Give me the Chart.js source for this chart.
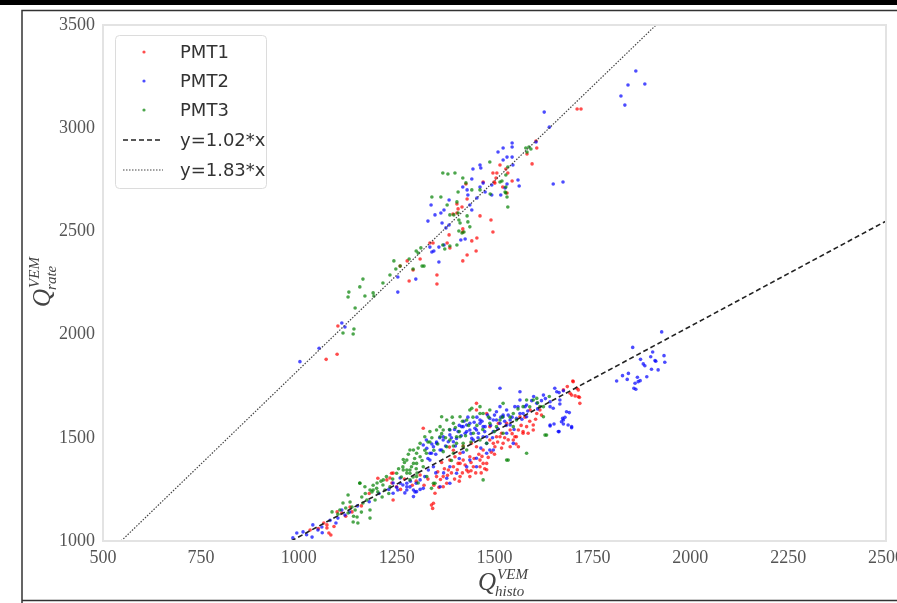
<!DOCTYPE html>
<html>
<head>
<meta charset="utf-8">
<script src="https://cdn.jsdelivr.net/npm/chart.js@4.4.0/dist/chart.umd.min.js"></script>
<style>
html, body { margin: 0; padding: 0; background: #fff; }
#wrap { position: relative; width: 897px; height: 603px; }
</style>
</head>
<body>
<div id="wrap"><canvas id="c" width="897" height="603"></canvas></div>
<script>
// axis ranges / ticks
const xTicks = [500, 750, 1000, 1250, 1500, 1750, 2000, 2250, 2500];
const yTicks = [1000, 1500, 2000, 2500, 3000, 3500];

// fit lines (end points)
const fit102 = [[980.4, 1000], [2500, 2550]];
const fit183 = [[546.4, 1000], [1912.6, 3500]];

// PMT1 (red)
const pmt1 = [
  [1070,1880],[1098,1905],[1100,2042],[1259,2332],[1277,2357],[1282,2260],[1292,2313],[1310,2366],[1335,2444],[1343,2444],
  [1353,2289],[1353,2245],[1379,2444],[1384,2483],[1386,2420],[1394,2584],[1404,2633],[1407,2609],[1404,2589],[1417,2618],
  [1419,2512],[1419,2497],[1419,2357],[1430,2386],[1442,2454],[1453,2405],[1455,2468],[1463,2575],[1491,2555],[1496,2497],
  [1501,2734],[1521,2715],[1496,2783],[1506,2783],[1514,2822],[1529,2802],[1534,2783],[1545,2744],[1471,2739],[1499,2739],
  [1504,2759],[1596,2827],[1606,2938],[1608,2904],[1583,2875],[1711,3093],[1721,3093],[1427,2730],[1430,2657],[1532,2686],
  [1029,1053],[1072,1078],[1077,1039],[1082,1029],[1072,1063],[1064,1087],[1098,1141],[1110,1136],[1131,1165],[1136,1141],
  [1233,1305],[1238,1281],[1241,1329],[1225,1296],[1202,1304],[1237,1328],[1241,1199],[1250,1263],[1318,1546],[1339,1174],
  [1342,1158],[1348,1231],[1352,1312],[1369,1263],[1378,1280],[1382,1344],[1386,1392],[1395,1360],[1399,1408],[1407,1376],
  [1412,1425],[1420,1392],[1429,1344],[1437,1408],[1441,1473],[1454,1635],[1463,1360],[1471,1376],[1480,1618],[1488,1554],
  [1497,1473],[1505,1505],[1518,1522],[1531,1570],[1540,1538],[1548,1489],[1556,1505],[1565,1602],[1561,1457],[1573,1522],
  [1582,1554],[1591,1635],[1599,1538],[1608,1618],[1616,1635],[1676,1732],[1701,1772],[1710,1740],[1714,1699],[1718,1667],
  [1693,1716],[1700,1775],[1686,1748],[1714,1732],[1697,1707],[1706,1703],[1717,1696],[1412,1376],[1446,1360],[1454,1457],
  [1463,1392],[1471,1441],[1480,1376],[1488,1489],[1501,1457],[1510,1570],[1514,1505],[1522,1473],[1540,1457],[1552,1505],
  [1561,1538],[1573,1530],[1586,1522],[1599,1562],[1454,1667],[1344,1183],[1369,1312],[1412,1312],[1437,1312],
  [1355,1335],[1362,1298],[1372,1350],[1380,1318],[1390,1330],[1398,1300],[1405,1345],[1410,1290],[1418,1330],[1425,1368],
  [1433,1335],[1440,1380],[1448,1400],[1452,1330],[1460,1420],[1468,1410],[1475,1350],[1484,1405],[1492,1430],[1500,1420],
  [1508,1480],[1518,1450],[1526,1500],[1535,1490],[1545,1520],[1555,1470],[1568,1560],[1578,1600],[1590,1580],[1605,1590],
  [1620,1610],[1300,1290],[1310,1320],[1320,1270],[1330,1300],[1290,1270],[1270,1300],[1260,1250],[1180,1230],[1160,1170],
  [1120,1120],[1090,1070],[1050,1060],[1395,1440],[1420,1460],[1385,1455],[1365,1380],[1345,1270],[1358,1260],[1440,1340],
  [1466,1330],[1480,1345]
];

// PMT2 (blue)
const pmt2 = [
  [1003,1869],[1052,1934],[1110,2056],[1118,2037],[1253,2279],[1253,2206],[1299,2269],[1340,2400],[1358,2352],[1330,2550],
  [1338,2628],[1348,2580],[1363,2589],[1371,2604],[1384,2652],[1366,2541],[1376,2517],[1384,2531],[1335,2424],[1345,2405],
  [1358,2424],[1371,2434],[1419,2715],[1430,2701],[1432,2676],[1437,2628],[1442,2604],[1455,2662],[1463,2715],[1471,2734],
  [1476,2691],[1493,2676],[1516,2676],[1527,2710],[1532,2730],[1563,2720],[1650,2730],[1675,2739],[1414,2458],[1425,2463],
  [1445,2802],[1463,2822],[1465,2807],[1442,2754],[1493,2725],[1509,2885],[1522,2904],[1522,2846],[1532,2860],[1545,2909],
  [1545,2928],[1545,2860],[1547,2822],[1560,2749],[1627,3078],[1640,3005],[1606,2933],[1861,3277],[1841,3209],[1884,3214],
  [1823,3156],[1833,3112],
  [985,1015],[995,1039],[1011,1044],[1034,1019],[1036,1078],[1049,1053],[1059,1068],[1095,1087],[1100,1111],[1118,1126],
  [1110,1150],[1241,1281],[1253,1247],[1266,1271],[1276,1247],[1284,1262],[1297,1238],[1271,1233],[1259,1305],[1241,1231],
  [1259,1280],[1276,1263],[1293,1215],[1301,1239],[1318,1255],[1322,1312],[1331,1344],[1335,1392],[1339,1425],[1326,1489],
  [1352,1473],[1365,1441],[1369,1505],[1382,1481],[1386,1538],[1403,1497],[1420,1554],[1429,1530],[1437,1570],[1446,1489],
  [1454,1538],[1463,1586],[1471,1554],[1480,1505],[1488,1441],[1497,1586],[1505,1626],[1514,1570],[1522,1602],[1531,1635],
  [1540,1586],[1552,1651],[1565,1683],[1573,1618],[1582,1659],[1608,1667],[1625,1707],[1642,1651],[1659,1723],[1514,1740],
  [1565,1723],[1642,1562],[1663,1530],[1676,1586],[1684,1626],[1697,1554],[1667,1683],[1386,1360],[1403,1328],[1454,1360],
  [1437,1392],
  [1812,1775],[1827,1801],[1839,1783],[1842,1812],[1853,1938],[1856,1740],[1861,1735],[1859,1764],[1865,1793],[1867,1772],
  [1872,1777],[1873,1880],[1880,1858],[1884,1849],[1889,1796],[1899,1893],[1901,1832],[1904,1916],[1910,1874],[1912,1871],
  [1918,1829],[1927,2013],[1933,1898],[1935,1866],
  [1642,1675],[1650,1643],[1642,1557],[1652,1567],[1667,1664],[1665,1530],[1674,1594],[1680,1599],[1671,1578],[1676,1567],
  [1688,1562],[1691,1622],[1697,1549],[1654,1740],[1665,1719],[1676,1728],
  [1318,1465],[1327,1449],[1335,1425],[1344,1457],[1352,1480],[1361,1441],[1369,1489],[1386,1514],[1395,1481],[1407,1530],
  [1416,1554],[1425,1522],[1429,1562],[1437,1538],[1442,1497],[1450,1546],[1459,1522],[1463,1570],[1471,1505],[1476,1554],
  [1480,1473],[1488,1594],[1497,1530],[1505,1586],[1514,1651],[1522,1610],[1531,1522],[1540,1562],[1548,1473],[1556,1594],
  [1565,1618],[1578,1651],[1582,1602],[1378,1304],[1386,1280],[1344,1360],[1276,1280],[1293,1247],[1310,1296],[1361,1263],
  [1429,1360],[1454,1401],[1480,1425],[1497,1441],
  [1390,1500],[1398,1540],[1410,1560],[1415,1510],[1422,1580],[1432,1600],[1440,1520],[1448,1575],[1455,1600],[1458,1500],
  [1468,1580],[1475,1530],[1482,1610],[1490,1560],[1495,1500],[1500,1610],[1508,1545],[1516,1600],[1526,1580],[1535,1610],
  [1545,1600],[1550,1540],[1560,1650],[1570,1590],[1585,1630],[1595,1680],[1610,1640],[1620,1680],[1350,1420],[1360,1500],
  [1340,1470],[1330,1400],[1375,1460],[1400,1460],[1420,1430],[1300,1280],[1310,1250],[1285,1290],[1250,1260],[1230,1250],
  [1205,1230],[1180,1190],[1150,1170],[1130,1140],[1080,1100],[1060,1040],[1020,1030],[1350,1330],[1370,1330],[1410,1400],
  [1465,1450],[1530,1560],[1600,1700],[1630,1690]
];

// PMT3 (green)
const pmt3 = [
  [1113,2008],[1139,2003],[1141,2027],[1128,2206],[1126,2182],[1156,2231],[1164,2269],[1169,2187],[1144,2129],[1190,2202],
  [1192,2187],[1215,2250],[1233,2289],[1243,2357],[1248,2318],[1259,2332],[1282,2366],[1292,2318],[1305,2395],[1300,2405],
  [1312,2420],[1315,2332],[1320,2332],[1340,2667],[1363,2667],[1379,2628],[1386,2580],[1396,2580],[1404,2643],[1407,2589],
  [1409,2555],[1412,2541],[1430,2575],[1432,2546],[1437,2522],[1409,2502],[1417,2492],[1422,2497],[1368,2434],[1373,2415],
  [1386,2429],[1404,2434],[1407,2691],[1442,2701],[1463,2701],[1489,2681],[1529,2686],[1532,2667],[1534,2618],[1368,2783],
  [1381,2778],[1399,2783],[1419,2759],[1427,2735],[1488,2836],[1514,2739],[1519,2744],[1529,2773],[1534,2812],[1580,2904],
  [1588,2909],[1593,2899],[1583,2885],[1527,2691],[1529,2715],
  [1126,1223],[1131,1189],[1136,1165],[1144,1150],[1149,1116],[1156,1281],[1161,1213],[1164,1184],[1174,1199],[1182,1150],
  [1182,1111],[1139,1092],[1126,1136],[1113,1184],[1105,1150],[1085,1141],[1151,1087],[1187,1238],[1195,1199],[1200,1281],
  [1202,1238],[1213,1213],[1190,1247],[1220,1247],[1266,1359],[1276,1329],[1284,1344],[1292,1310],[1302,1329],[1305,1281],
  [1233,1262],[1215,1271],[1156,1280],[1169,1263],[1182,1247],[1199,1255],[1216,1296],[1224,1312],[1250,1328],[1267,1344],
  [1276,1392],[1284,1328],[1293,1441],[1301,1376],[1310,1408],[1318,1360],[1326,1425],[1352,1538],[1361,1505],[1365,1602],
  [1378,1457],[1386,1489],[1395,1425],[1403,1473],[1412,1505],[1420,1457],[1429,1586],[1437,1635],[1446,1522],[1463,1489],
  [1471,1618],[1480,1473],[1488,1570],[1505,1554],[1522,1522],[1535,1392],[1548,1554],[1556,1586],[1573,1651],[1582,1683],
  [1599,1683],[1616,1651],[1625,1602],[1629,1513],[1608,1691],[1522,1667],[1463,1651],[1369,1433],[1339,1255],[1348,1280],
  [1267,1395],[1276,1344],[1284,1441],[1293,1376],[1301,1425],[1310,1473],[1322,1505],[1335,1530],[1361,1554],[1369,1538],
  [1378,1586],[1395,1570],[1403,1505],[1412,1602],[1420,1473],[1429,1441],[1442,1643],[1463,1618],[1471,1296],[1488,1635],
  [1514,1586],[1531,1392],[1548,1618],[1582,1425],[1625,1651],[1633,1513],[1344,1280],[1327,1312],[1301,1312],[1284,1296],
  [1240,1300],[1255,1350],[1262,1310],[1270,1380],[1280,1420],[1288,1360],[1296,1400],[1305,1450],[1315,1390],[1322,1440],
  [1330,1480],[1340,1500],[1345,1440],[1355,1470],[1365,1520],[1375,1500],[1385,1540],[1392,1600],[1400,1550],[1410,1530],
  [1418,1580],[1426,1510],[1434,1560],[1445,1600],[1455,1560],[1470,1540],[1485,1600],[1500,1530],[1520,1600],[1540,1600],
  [1560,1640],[1590,1650],[1610,1670],[1640,1700],[1230,1230],[1210,1290],[1190,1270],[1170,1230],[1160,1140],[1140,1120],
  [1120,1160],[1100,1130],[1300,1350],[1335,1480],[1395,1460],[1440,1480],[1390,1390]
];

const toXY = arr => arr.map(p => ({ x: p[0], y: p[1] }));

const serif = '"Liberation Serif", "DejaVu Serif", serif';
const sans = '"DejaVu Sans", sans-serif';

// outer frame, plot border
const framePlugin = {
  id: 'frame',
  beforeDraw(chart) {
    const ctx = chart.ctx;
    ctx.save();
    ctx.fillStyle = '#fff';
    ctx.fillRect(0, 0, chart.width, chart.height);
    ctx.fillStyle = '#000';
    ctx.fillRect(0, 0, chart.width, 5);
    ctx.strokeStyle = '#333';
    ctx.lineWidth = 1.5;
    ctx.beginPath();
    ctx.moveTo(22, 603);
    ctx.lineTo(22, 10.5);
    ctx.lineTo(897, 10.5);
    ctx.moveTo(22, 600.5);
    ctx.lineTo(897, 600.5);
    ctx.stroke();
    ctx.restore();
  },
  afterDatasetsDraw(chart) {
    const ctx = chart.ctx;
    const a = chart.chartArea;
    ctx.save();
    ctx.strokeStyle = '#e3e3e3';
    ctx.lineWidth = 2;
    ctx.strokeRect(a.left, a.top, a.right - a.left, a.bottom - a.top);
    ctx.restore();
  }
};

// Q^{VEM}_{sub} axis titles
function drawQ(ctx, sub) {
  ctx.font = 'italic 25px ' + serif;
  ctx.fillText('Q', 0, 0);
  const w = ctx.measureText('Q').width;
  ctx.font = 'italic 15px ' + serif;
  ctx.fillText('VEM', w + 1, -11);
  ctx.fillText(sub, w - 1, 6);
}

const titlePlugin = {
  id: 'titles',
  afterDraw(chart) {
    const ctx = chart.ctx;
    ctx.save();
    ctx.fillStyle = '#444';
    ctx.textBaseline = 'alphabetic';
    ctx.textAlign = 'left';
    ctx.save();
    ctx.translate(478, 590);
    drawQ(ctx, 'histo');
    ctx.restore();
    ctx.save();
    ctx.translate(50, 307);
    ctx.rotate(-Math.PI / 2);
    drawQ(ctx, 'rate');
    ctx.restore();
    ctx.restore();
  }
};

// legend box, upper left
const legendPlugin = {
  id: 'boxLegend',
  afterDatasetsDraw(chart) {
    const ctx = chart.ctx;
    const rows = [52, 81, 110, 140, 170];
    ctx.save();
    ctx.beginPath();
    ctx.roundRect(115.5, 35.5, 151, 153, 4);
    ctx.fillStyle = 'rgba(255,255,255,0.85)';
    ctx.fill();
    ctx.strokeStyle = '#dcdcdc';
    ctx.lineWidth = 1;
    ctx.stroke();
    ctx.font = '18px ' + sans;
    ctx.textBaseline = 'middle';
    chart.data.datasets.forEach((ds, i) => {
      const y = rows[i];
      if (ds.showLine) {
        ctx.strokeStyle = ds.borderColor;
        ctx.lineWidth = ds.borderWidth;
        ctx.setLineDash(ds.borderDash);
        ctx.beginPath();
        ctx.moveTo(123, y);
        ctx.lineTo(163, y);
        ctx.stroke();
        ctx.setLineDash([]);
      } else {
        ctx.fillStyle = ds.backgroundColor;
        ctx.beginPath();
        ctx.arc(144, y, 1.6, 0, Math.PI * 2);
        ctx.fill();
      }
      ctx.fillStyle = '#333';
      ctx.fillText(ds.label, 180, y + 1);
    });
    ctx.restore();
  }
};

const pointDs = (label, data, color, order) => ({
  label, data: toXY(data), backgroundColor: color, borderWidth: 0,
  pointRadius: 1.8, pointHoverRadius: 1.8, order
});

new Chart(document.getElementById('c'), {
  type: 'scatter',
  data: {
    datasets: [
      pointDs('PMT1', pmt1, 'rgba(255,0,0,0.7)', 3),
      pointDs('PMT2', pmt2, 'rgba(0,0,255,0.7)', 2),
      pointDs('PMT3', pmt3, 'rgba(0,128,0,0.7)', 1),
      {
        label: 'y=1.02*x', data: toXY(fit102), showLine: true, pointRadius: 0,
        borderColor: '#222', borderWidth: 1.6, borderDash: [5, 3], order: 0
      },
      {
        label: 'y=1.83*x', data: toXY(fit183), showLine: true, pointRadius: 0,
        borderColor: '#444', borderWidth: 1.2, borderDash: [1.5, 1.5], order: 0
      }
    ]
  },
  options: {
    responsive: false,
    animation: false,
    devicePixelRatio: 1,
    layout: { padding: { top: 25, right: 11, left: 0, bottom: 0 } },
    plugins: { legend: { display: false }, tooltip: { enabled: false } },
    scales: {
      x: {
        type: 'linear', min: 500, max: 2500,
        afterBuildTicks: s => { s.ticks = xTicks.map(v => ({ value: v })); },
        ticks: { font: { family: serif, size: 18 }, color: '#555', padding: 6, maxRotation: 0, callback: v => String(v) },
        grid: { display: false, drawTicks: false },
        border: { display: false },
        afterFit: s => { s.height = 62; s.paddingLeft = 0; s.paddingRight = 0; }
      },
      y: {
        type: 'linear', min: 1000, max: 3500,
        afterBuildTicks: s => { s.ticks = yTicks.map(v => ({ value: v })); },
        ticks: { font: { family: serif, size: 18 }, color: '#555', padding: 8, callback: v => String(v) },
        grid: { display: false, drawTicks: false },
        border: { display: false },
        afterFit: s => { s.width = 103; s.paddingTop = 0; s.paddingBottom = 0; }
      }
    }
  },
  plugins: [framePlugin, legendPlugin, titlePlugin]
});
</script>
</body>
</html>
